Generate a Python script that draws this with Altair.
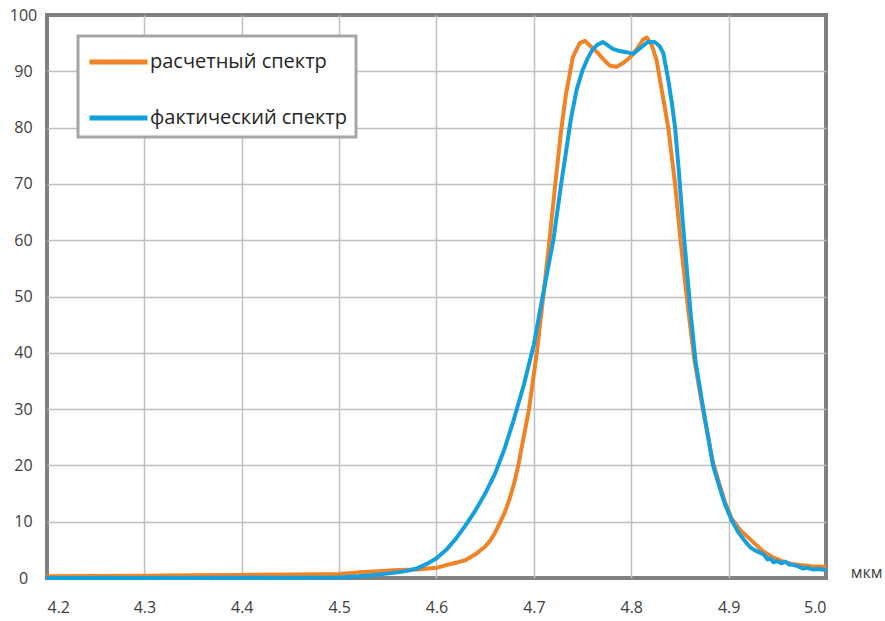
import altair as alt
import pandas as pd

series_names = ["расчетный спектр", "фактический спектр"]
series_colors = ["#F08326", "#14A0DE"]

calc_x = [4.20, 4.25, 4.30, 4.35, 4.40, 4.45, 4.50, 4.52, 4.54, 4.56, 4.58, 4.60, 4.61, 4.62,
          4.63, 4.64, 4.65, 4.655, 4.66, 4.665, 4.67, 4.675, 4.68, 4.684, 4.695, 4.703,
          4.710, 4.716, 4.722, 4.728, 4.733, 4.740, 4.747, 4.7525, 4.758, 4.765, 4.772,
          4.778, 4.785, 4.792, 4.799, 4.806, 4.812, 4.816, 4.821, 4.826, 4.830, 4.834,
          4.838, 4.845, 4.850, 4.855, 4.860, 4.865, 4.873, 4.884, 4.890, 4.896, 4.903,
          4.912, 4.922, 4.935, 4.945, 4.956, 4.965, 4.973, 4.985, 5.0]
calc_y = [0.3, 0.35, 0.4, 0.5, 0.55, 0.6, 0.7, 1.0, 1.2, 1.4, 1.5, 1.8, 2.3, 2.7,
          3.2, 4.2, 5.6, 6.6, 8.0, 9.8, 11.6, 14.0, 17.0, 20.0, 30.0, 40.0,
          50.5, 60.0, 70.0, 79.5, 86.0, 92.5, 95.0, 95.4, 94.5, 93.4, 92.0,
          91.0, 90.8, 91.5, 92.5, 94.0, 95.6, 96.0, 94.7, 92.0, 88.0, 84.0,
          80.0, 70.0, 61.0, 53.0, 45.5, 38.5, 30.5, 20.5, 17.0, 13.6, 10.6,
          8.5, 6.9, 4.8, 3.7, 2.9, 2.5, 2.3, 2.1, 2.0]

fact_x = [4.20, 4.30, 4.40, 4.50, 4.52, 4.54, 4.56, 4.57, 4.58, 4.59, 4.60, 4.61, 4.62,
          4.63, 4.64, 4.65, 4.66, 4.67, 4.68, 4.69, 4.70, 4.709, 4.715, 4.720, 4.728,
          4.732, 4.738, 4.744, 4.750, 4.755, 4.760, 4.765, 4.771, 4.776, 4.781, 4.788,
          4.795, 4.802, 4.809, 4.817, 4.824, 4.829, 4.833, 4.838, 4.842, 4.845, 4.849,
          4.853, 4.857, 4.861, 4.866, 4.874, 4.884, 4.890, 4.896, 4.903, 4.910, 4.917,
          4.922, 4.927, 4.931, 4.936, 4.940, 4.943, 4.946, 4.950, 4.954, 4.958, 4.962,
          4.967, 4.971, 4.976, 4.981, 4.987, 4.993, 5.0]
fact_y = [0.0, 0.0, 0.05, 0.1, 0.3, 0.6, 1.0, 1.3, 1.7, 2.5, 3.5, 5.0, 7.0,
          9.4, 12.0, 15.0, 18.5, 23.0, 28.5, 34.5, 41.5, 50.0, 55.5, 60.0, 70.0,
          74.5, 81.5, 86.8, 90.2, 92.2, 93.8, 94.7, 95.2, 94.6, 94.0, 93.6,
          93.4, 93.1, 94.1, 95.2, 95.2, 94.5, 93.2, 88.5, 84.0, 80.0, 72.0,
          63.0, 55.0, 47.0, 38.5, 30.0, 20.0, 16.5, 13.2, 10.3, 8.1, 6.5,
          5.5, 4.9, 4.6, 4.2, 3.3, 3.5, 2.8, 3.0, 2.6, 2.9, 2.4,
          2.3, 2.1, 1.7, 1.8, 1.5, 1.6, 1.4]

x_ticks = [4.2, 4.3, 4.4, 4.5, 4.6, 4.7, 4.8, 4.9, 5.0]
y_ticks = list(range(0, 101, 10))

df = pd.concat([
    pd.DataFrame({"x": calc_x, "y": calc_y, "s": series_names[0], "o": range(len(calc_x))}),
    pd.DataFrame({"x": fact_x, "y": fact_y, "s": series_names[1], "o": range(len(fact_x))}),
])

edge_grid = alt.condition(
    "datum.value <= 4.2001 || (datum.value >= 4.9999 && datum.value <= 5.0001) || datum.value >= 99.99 || datum.value == 0",
    alt.value(0), alt.value(1))

chart = alt.Chart(df).mark_line(strokeWidth=4, strokeJoin="round").encode(
    x=alt.X("x:Q", scale=alt.Scale(domain=[4.2, 5.0], nice=False, zero=False),
            axis=alt.Axis(values=x_ticks, format=".1f", title="мкм", titleX=819, titleY=-6,
                          titleAlign="center", titleBaseline="middle", titleFontSize=16,
                          titleFontWeight="normal", titleFont="Open Sans", titleColor="#404040",
                          labelPadding=29, labelBaseline="middle", gridOpacity=edge_grid)),
    y=alt.Y("y:Q", scale=alt.Scale(domain=[0, 100], nice=False),
            axis=alt.Axis(values=y_ticks, title=None, labelAlign="center", labelPadding=24,
                          labelBaseline="middle", gridOpacity=edge_grid)),
    color=alt.Color("s:N", scale=alt.Scale(domain=series_names, range=series_colors),
                    legend=alt.Legend(title=None, orient="none", legendX=31, legendY=21,
                                      symbolType="M-1,0H3", symbolSize=841,
                                      symbolStrokeWidth=5, labelFontSize=20,
                                      labelFont="Open Sans", labelColor="#262626",
                                      labelOffset=29, labelLimit=0, rowPadding=29, padding=9,
                                      strokeColor="#A6A6A6", fillColor="#FFFFFF")),
    order="o:Q",
).properties(
    width=779, height=563,
    autosize=alt.AutoSizeParams(type="none"),
    padding={"left": 47, "top": 15, "right": 59, "bottom": 43},
).configure_view(
    stroke="#808080", strokeWidth=4
).configure_axis(
    grid=True, gridColor="#C0C0C0", gridWidth=1.5, domain=False, ticks=False,
    labelFont="Open Sans", labelFontSize=16, labelColor="#404040"
).configure_legend(
    strokeWidth=3
)

chart.save("out.html", embed_options={"renderer": "svg", "actions": False})
